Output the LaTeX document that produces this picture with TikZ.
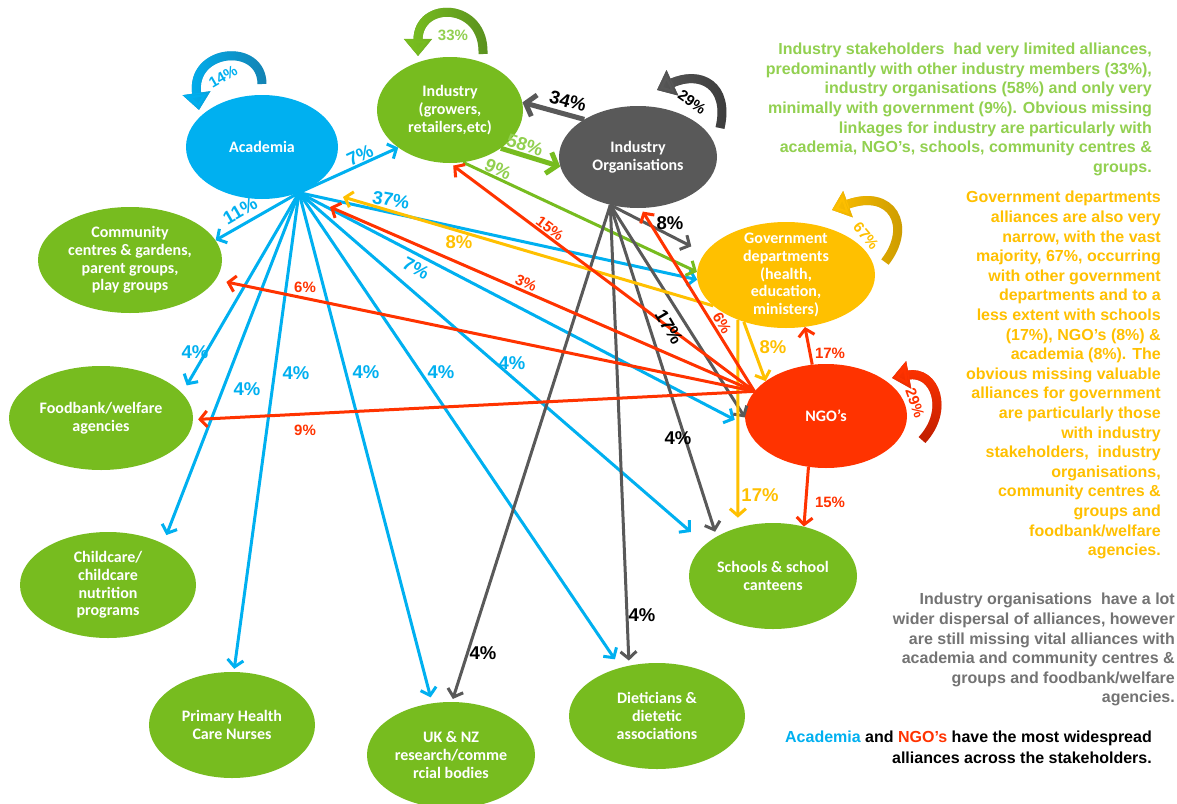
\documentclass[tikz,border=0pt]{standalone}
\usepackage{fontspec}
\setmainfont{Liberation Sans}
\newfontfamily\calfont{Carlito}
\usetikzlibrary{arrows.meta,shapes.geometric,fadings}

\definecolor{cyanA}{HTML}{00B0F0}
\definecolor{cyanD}{HTML}{1483B3}
\definecolor{grnA}{HTML}{77BC1F}
\definecolor{grnD}{HTML}{5A9020}
\definecolor{grnL}{HTML}{92D050}
\definecolor{grayA}{HTML}{595959}
\definecolor{grayD}{HTML}{3A3A3A}
\definecolor{yelA}{HTML}{FFC000}
\definecolor{yelD}{HTML}{C49600}
\definecolor{redA}{HTML}{FF3300}
\definecolor{redD}{HTML}{BE1E00}
\definecolor{txtGray}{HTML}{737373}

\tikzfading[name=keepleft, left color=transparent!0, right color=transparent!100]
\tikzfading[name=keeptop, top color=transparent!0, bottom color=transparent!100]

\tikzset{
  stake/.style={ellipse, fill=#1, draw=none, inner sep=0pt},
  stxt/.style={text=white, font=\calfont\bfseries\fontsize{16}{17.7}\selectfont, align=center, inner sep=0pt},
  conn/.style={line width=3pt, draw=#1, -{Straight Barb[length=7pt,width=16pt]}},
  thickconn/.style={line width=5pt, draw=#1, -{Straight Barb[length=9pt,width=22pt]}},
  pct/.style={text=#1, font=\bfseries\fontsize{18.5}{18.5}\selectfont, inner sep=0pt},
  pcts/.style={text=#1, font=\bfseries\fontsize{15}{15}\selectfont, inner sep=0pt},
  loopband/.style={line width=9pt, draw=#1, fill=none, -{Triangle[length=17pt,width=27pt]}},
  note/.style={align=right, inner sep=0pt, anchor=north east, font=\bfseries\fontsize{16}{19.6}\selectfont},
}

\begin{document}
\begin{tikzpicture}[x=1pt,y=-1pt]
\fill[white] (0,0) rectangle (1177,803);
\useasboundingbox (0,0) rectangle (1177,803);

% ---------- stakeholders ----------
\node[stake=cyanA, minimum width=152pt, minimum height=104pt] (ac) at (262,147) {};
\node[stake=grnA, minimum width=146pt, minimum height=106pt] (ind) at (450,110) {};
\node[stake=grayA, minimum width=158pt, minimum height=102pt] (io) at (638,157) {};
\node[stake=yelA, minimum width=178pt, minimum height=106pt] (gov) at (786,275) {};
\node[stake=redA, minimum width=162pt, minimum height=104pt] (ngo) at (826,416) {};
\node[stake=grnA, minimum width=168pt, minimum height=106pt] (sch) at (773,576) {};
\node[stake=grnA, minimum width=184pt, minimum height=106pt] (com) at (130,260) {};
\node[stake=grnA, minimum width=184pt, minimum height=104pt] (food) at (101,418) {};
\node[stake=grnA, minimum width=176pt, minimum height=106pt] (child) at (108,585) {};
\node[stake=grnA, minimum width=166pt, minimum height=106pt] (phc) at (232,725) {};
\node[stake=grnA, minimum width=168pt, minimum height=106pt] (uk) at (451,755) {};
\node[stake=grnA, minimum width=176pt, minimum height=106pt] (diet) at (657,716) {};

\node[stxt] (ac-t) at (ac) {Academia};
\node[stxt] (ind-t) at (ind) {Industry\\(growers,\\retailers,etc)};
\node[stxt] (io-t) at (io) {Industry\\Organisations};
\node[stxt] (gov-t) at (gov) {Government\\departments\\(health,\\education,\\ministers)};
\node[stxt] (ngo-t) at (ngo) {NGO’s};
\node[stxt] (sch-t) at (sch) {Schools \& school\\canteens};
\node[stxt] (com-t) at (com) {Community\\centres \& gardens,\\parent groups,\\play groups};
\node[stxt] (food-t) at (food) {Foodbank/welfare\\agencies};
\node[stxt] (child-t) at (child) {Childcare/\\childcare\\nutrition\\programs};
\node[stxt] (phc-t) at (phc) {Primary Health\\Care Nurses};
\node[stxt] (uk-t) at (uk) {UK \& NZ\\research/comme\\rcial bodies};
\node[stxt] (diet-t) at (diet) {Dieticians \&\\dietetic\\associations};

% end points that stop short of the academia ellipse
\coordinate (acY) at (343,197);
\coordinate (acR) at (330,207);

% ---------- academia links ----------
\draw[conn=cyanA] (ac.-51) -- (ind.216);
\draw[conn=cyanA] (ac.-51) -- (com.13);
\draw[conn=cyanA, shorten >=9pt] (ac.-51) -- (food.17);
\draw[conn=cyanA, shorten >=9pt] (ac.-51) -- (child.37);
\draw[conn=cyanA, shorten >=3pt] (ac.-51) -- (phc.88);
\draw[conn=cyanA, shorten >=6pt] (ac.-51) -- (uk.110);
\draw[conn=cyanA, shorten >=10pt] (ac.-51) -- (diet.127);
\draw[conn=cyanA, shorten >=19pt] (ac.-51) -- (sch.155);
\draw[conn=cyanA, shorten >=13pt] (ac.-51) -- (ngo.187);
\draw[conn=cyanA] (ac.-51) -- (gov.183);

% ---------- industry links ----------
\draw[thickconn=grnA] (ind.-37) -- (io.187);
\draw[conn=grnA] (ind.-76) -- (gov.178);

% ---------- industry organisation links ----------
\draw[thickconn=grayA] (io.145) -- (ind.6);
\draw[conn=grayA, shorten >=15pt] (io.240) -- (gov.165);
\draw[conn=grayA] (io.240) -- (ngo.181);
\draw[conn=grayA, shorten >=5pt] (io.240) -- (sch.145);
\draw[conn=grayA, shorten >=5pt] (io.240) -- (diet.119);
\draw[conn=grayA, shorten >=3pt] (io.240) -- (uk.89);

% ---------- government links ----------
\draw[conn=yelA] (gov.203) -- (acY);
\draw[conn=yelA] (gov.228) -- (ngo.150);
\draw[conn=yelA, shorten >=10pt] (gov.223) -- (sch.126);

% ---------- NGO links ----------
\draw[conn=redA] (ngo.161) -- (acR);
\draw[conn=redA, shorten >=4pt] (ngo.161) -- (ind.-90);
\draw[conn=redA, shorten >=11pt] (ngo.161) -- (com.-13);
\draw[conn=redA, shorten >=5pt] (ngo.161) -- (food.-1);
\draw[conn=redA, shorten >=4pt] (ngo.161) -- (io.-87);
\draw[conn=redA] (ngo.105) -- (gov.-70);
\draw[conn=redA] (ngo.251) -- (sch.58);

% ---------- self links (curved block arrows) ----------
\draw[loopband=cyanD] ([shift={(0,-63)}]ac.center) .. controls +(0,-42) and +(-9,-62) .. ([shift={(-63,-37)}]ac.center);
\draw[loopband=cyanA, path fading=keepleft] ([shift={(0,-63)}]ac.center) .. controls +(0,-42) and +(-9,-62) .. ([shift={(-63,-37)}]ac.center);

\draw[loopband=grnD] ([shift={(33,-56)}]ind.center) .. controls +(2,-52) and +(0,-56) .. ([shift={(-32,-54)}]ind.center);
\draw[loopband=grnA, path fading=keepleft] ([shift={(33,-56)}]ind.center) .. controls +(2,-52) and +(0,-56) .. ([shift={(-32,-54)}]ind.center);

\draw[loopband=grayD] ([shift={(82,-29)}]io.center) .. controls +(10,-43) and +(43,-20) .. ([shift={(19,-67)}]io.center);
\draw[loopband=grayA, path fading=keepleft] ([shift={(82,-29)}]io.center) .. controls +(10,-43) and +(43,-20) .. ([shift={(19,-67)}]io.center);

\draw[loopband=yelD] ([shift={(99,-13)}]gov.center) .. controls +(28,-36) and +(60,-22) .. ([shift={(46,-65)}]gov.center);
\draw[loopband=yelA, path fading=keepleft] ([shift={(99,-13)}]gov.center) .. controls +(28,-36) and +(60,-22) .. ([shift={(46,-65)}]gov.center);

\draw[loopband=redD] ([shift={(96,24)}]ngo.center) .. controls +(28,-30) and +(43,-8) .. ([shift={(66,-38)}]ngo.center);
\draw[loopband=redA, path fading=keeptop] ([shift={(96,24)}]ngo.center) .. controls +(28,-30) and +(43,-8) .. ([shift={(66,-38)}]ngo.center);

% ---------- percentages ----------
\node[pct=cyanA, rotate=25] (lc1) at (360,155) {7\%};
\node[pct=cyanA, rotate=30] (lc2) at (240,211) {11\%};
\node[pct=cyanA] (lc3) at (195,352) {4\%};
\node[pct=cyanA] (lc4) at (247,389) {4\%};
\node[pct=cyanA] (lc5) at (296,373) {4\%};
\node[pct=cyanA] (lc6) at (366,372) {4\%};
\node[pct=cyanA] (lc7) at (441,372) {4\%};
\node[pct=cyanA] (lc8) at (512,363) {4\%};
\node[pct=cyanA, rotate=-28] (lc9) at (416,268) {7\%};
\node[pct=cyanA, rotate=-10] (lc10) at (391,200) {37\%};

\node[pct=grnL, rotate=-18] (le1) at (525,145) {58\%};
\node[pct=grnL, rotate=-25] (le2) at (498,169) {9\%};

\node[pct=black, rotate=-15] (lg1) at (568,101) {34\%};
\node[pct=black] (lg2) at (670,223) {8\%};
\node[pct=black, rotate=-60] (lg3) at (669,327) {17\%};
\node[pct=black] (lg4) at (678,438) {4\%};
\node[pct=black] (lg5) at (642,615) {4\%};
\node[pct=black] (lg6) at (483,653) {4\%};

\node[pct=yelA] (ly1) at (459,242) {8\%};
\node[pct=yelA] (ly2) at (773,347) {8\%};
\node[pct=yelA] (ly3) at (760,495) {17\%};

\node[pcts=redA, rotate=-24] (lr1) at (526,283) {3\%};
\node[pcts=redA, rotate=-37] (lr2) at (550,228) {15\%};
\node[pcts=redA] (lr3) at (305,287) {6\%};
\node[pcts=redA] (lr4) at (305,430) {9\%};
\node[pcts=redA, rotate=-60] (lr5) at (722,323) {6\%};
\node[pcts=redA] (lr6) at (830,353) {17\%};
\node[pcts=redA] (lr7) at (830,502) {15\%};

\node[pcts=cyanA, rotate=30] (ll1) at (223,77) {14\%};
\node[pcts=grnL] (ll2) at (453,35) {33\%};
\node[pcts=black, rotate=-35] (ll3) at (692,102) {29\%};
\node[pcts=yelA, rotate=-50] (ll4) at (866,236) {67\%};
\node[pcts=redA, rotate=-70] (ll5) at (915,403) {29\%};

% ---------- commentary ----------
\node[note, text=grnL] (n-ind) at (1152,43) {Industry stakeholders\ \ had very limited alliances,\\
predominantly with other industry members (33\%),\\
industry organisations (58\%) and only very\\
minimally with government (9\%). Obvious missing\\
linkages for industry are particularly with\\
academia, NGO’s, schools, community centres \&\\
groups.};

\node[note, text=yelA] (n-gov) at (1161,191) {Government departments\\
alliances are also very\\
narrow, with the vast\\
majority, 67\%, occurring\\
with other government\\
departments and to a\\
less extent with schools\\
(17\%), NGO’s (8\%) \&\\
academia (8\%). The\\
obvious missing valuable\\
alliances for government\\
are particularly those\\
with industry\\
stakeholders,\ \ industry\\
organisations,\\
community centres \&\\
groups and\\
foodbank/welfare\\
agencies.};

\node[note, text=txtGray] (n-io) at (1175,593) {Industry organisations\ \ have a lot\\
wider dispersal of alliances, however\\
are still missing vital alliances with\\
academia and community centres \&\hspace*{7pt}\\
groups and foodbank/welfare\\
agencies.};

\node[note, text=black, font=\bfseries\fontsize{16}{21}\selectfont] (n-all) at (1152,731) {{\color{cyanA}Academia} and {\color{redA}NGO’s} have the most widespread\\
alliances across the stakeholders.};

\end{tikzpicture}
\end{document}
